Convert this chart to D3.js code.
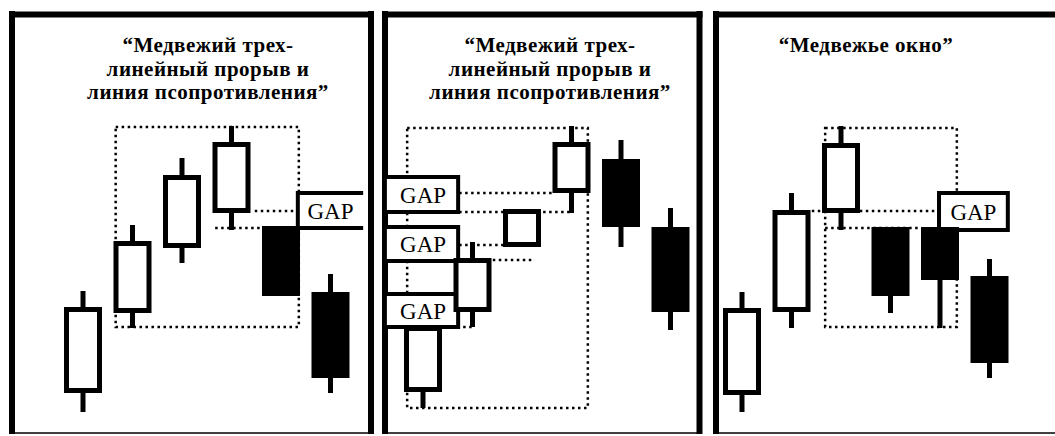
<!DOCTYPE html>
<html>
<head>
<meta charset="utf-8">
<script src="https://cdn.jsdelivr.net/npm/d3@7"></script>
<style>
  body { margin: 0; background: #fff; }
</style>
</head>
<body>
<div id="fig"></div>
<script>
// candle values, one row per panel (price units)
var opens  = [[27, 107, 172, 207, 194, 128], [28, 108, 173, 227, 261, 193], [25, 108, 207, 193, 193, 144]];
var closes = [[113, 179, 245, 278, 124, 42], [94, 162, 211, 278, 193, 108], [112, 210, 277, 124, 140, 57]];
var highs  = [[129, 195, 262, 294, 194, 146], [94, 178, 211, 294, 280, 212], [128, 227, 294, 193, 193, 161]];
var lows   = [[8, 92, 157, 190, 124, 27], [12, 93, 173, 207, 173, 90], [8, 92, 190, 107, 92, 42]];

var titles = [
	["“Медвежий трех-", "линейный прорыв и", "линия псопротивления”"],
	["“Медвежий трех-", "линейный прорыв и", "линия псопротивления”"],
	["“Медвежье окно”"]
];

// dotted zone around the pattern: [from index, to index, top, bottom]
var zones = [[0.66, 4.36, 293, 93], [-0.32, 3.33, 292, 12], [1.68, 4.34, 292, 93]];

// dotted guide lines: [panel, from index, to index, level]
var guides = [
	[0, 3.47, 4.34, 209], [0, 2.67, 3.64, 192],
	[1, 0.73, 2.63, 227], [1, 0.73, 3.03, 208], [1, 0.73, 1.64, 175], [1, 1.41, 2.26, 160], [1, 0.69, 1.01, 93],
	[2, 1.41, 4.0, 209], [2, 1.68, 3.62, 192]
];

// GAP boxes: [panel, from index, to index, top, bottom]
var gaps = [
	[0, 4.34, 5.66, 227, 192],
	[1, -0.77, 0.71, 243, 208], [1, -0.77, 0.71, 193, 159], [1, -0.77, 0.71, 126, 93],
	[2, 3.98, 5.37, 227, 190]
];
var gapLabel = "GAP";

// layout
var width = 1055, height = 436;
var frames = [{left: 12, right: 371}, {left: 385, right: 699.5}, {left: 716, right: 1080}];
var titleX = [208, 550, 866];
var firstCenter = [83, 423, 742];
var step = 49.5;
var bodyW = 38, sw = 5;
var serif = "'Liberation Serif', 'Times New Roman', serif";

var svg = d3.select("#fig")
	.append("svg")
	.attr("width", width)
	.attr("height", height);

var y = d3.scaleLinear().domain([0, 300]).range([420, 120]);

var xs = firstCenter.map(function(c) {
	return d3.scaleLinear().domain([0, 5]).range([c, c + 5 * step]);
});

// panel frames: heavy top / sides, thin bottom
frames.forEach(function(f) {
	var g = svg.append("g").attr("stroke", "#000").attr("fill", "none");
	g.append("line").attr("x1", f.left - 3).attr("x2", f.right + 3).attr("y1", 14.5).attr("y2", 14.5).attr("stroke-width", 6);
	g.append("line").attr("x1", f.left).attr("x2", f.left).attr("y1", 11).attr("y2", 434).attr("stroke-width", 6);
	g.append("line").attr("x1", f.right).attr("x2", f.right).attr("y1", 11).attr("y2", 434).attr("stroke-width", 6);
	g.append("line").attr("x1", f.left).attr("x2", f.right).attr("y1", 433).attr("y2", 433).attr("stroke-width", 1.5);
});

// dotted zones
zones.forEach(function(z, p) {
	svg.append("rect")
		.attr("x", xs[p](z[0]))
		.attr("y", y(z[2]))
		.attr("width", xs[p](z[1]) - xs[p](z[0]))
		.attr("height", y(z[3]) - y(z[2]))
		.attr("fill", "none")
		.attr("stroke", "#000")
		.attr("stroke-width", 2.5)
		.attr("stroke-dasharray", "2.5,3.5");
});

// dotted guide lines
svg.selectAll("line.guide")
	.data(guides)
	.enter()
	.append("line")
	.attr("class", "guide")
	.attr("x1", function(d) { return xs[d[0]](d[1]); })
	.attr("x2", function(d) { return xs[d[0]](d[2]); })
	.attr("y1", function(d) { return y(d[3]); })
	.attr("y2", function(d) { return y(d[3]); })
	.attr("stroke", "#000")
	.attr("stroke-width", 2.5)
	.attr("stroke-dasharray", "2.5,3.5");

// GAP boxes
gaps.forEach(function(d) {
	var x0 = xs[d[0]](d[1]), x1 = xs[d[0]](d[2]);
	var y0 = y(d[3]), y1 = y(d[4]);
	svg.append("rect")
		.attr("x", x0).attr("y", y0)
		.attr("width", x1 - x0).attr("height", y1 - y0)
		.attr("fill", "#fff");
	// first panel box is open to the right
	var path = d[0] === 0
		? "M" + x1 + "," + y0 + "H" + x0 + "V" + y1 + "H" + x1
		: "M" + x0 + "," + y0 + "H" + x1 + "V" + y1 + "H" + x0 + "Z";
	svg.append("path")
		.attr("d", path)
		.attr("fill", "none")
		.attr("stroke", "#000")
		.attr("stroke-width", 4);
	svg.append("text")
		.attr("x", d[0] === 1 ? (Math.max(x0, frames[1].left + 3) + x1) / 2 : (x0 + x1) / 2)
		.attr("y", (y0 + y1) / 2 + 8)
		.attr("text-anchor", "middle")
		.attr("font-family", serif)
		.attr("font-size", 23)
		.attr("fill", "#000")
		.text(gapLabel);
});

// candles
opens.forEach(function(row, p) {
	var g = svg.append("g");
	var data = row.map(function(o, i) {
		return {i: i, o: o, c: closes[p][i], h: highs[p][i], l: lows[p][i]};
	});

	g.selectAll("line.wick")
		.data(data.filter(function(d) { return d.h > d.l; }))
		.enter()
		.append("line")
		.attr("x1", function(d) { return xs[p](d.i); })
		.attr("x2", function(d) { return xs[p](d.i); })
		.attr("y1", function(d) { return y(d.h); })
		.attr("y2", function(d) { return y(d.l); })
		.attr("stroke", "#000")
		.attr("stroke-width", 5);

	g.selectAll("rect.body")
		.data(data)
		.enter()
		.append("rect")
		.attr("x", function(d) { return xs[p](d.i) - bodyW / 2 + sw / 2; })
		.attr("y", function(d) { return y(Math.max(d.o, d.c)) + sw / 2; })
		.attr("width", bodyW - sw)
		.attr("height", function(d) { return Math.abs(y(d.o) - y(d.c)) - sw; })
		.attr("fill", function(d) { return d.c > d.o ? "#fff" : "#000"; })
		.attr("stroke", "#000")
		.attr("stroke-width", sw);
});

// titles, one text per line
titles.forEach(function(lines, p) {
	svg.selectAll("text.title" + p)
		.data(lines)
		.enter()
		.append("text")
		.attr("class", "title" + p)
		.attr("x", titleX[p])
		.attr("y", function(d, i) { return 52 + i * 23.5; })
		.attr("text-anchor", "middle")
		.attr("font-family", serif)
		.attr("font-size", 21)
		.attr("font-weight", "bold")
		.attr("letter-spacing", 0.5)
		.attr("fill", "#000")
		.text(function(d) { return d; });
});
</script>
</body>
</html>
